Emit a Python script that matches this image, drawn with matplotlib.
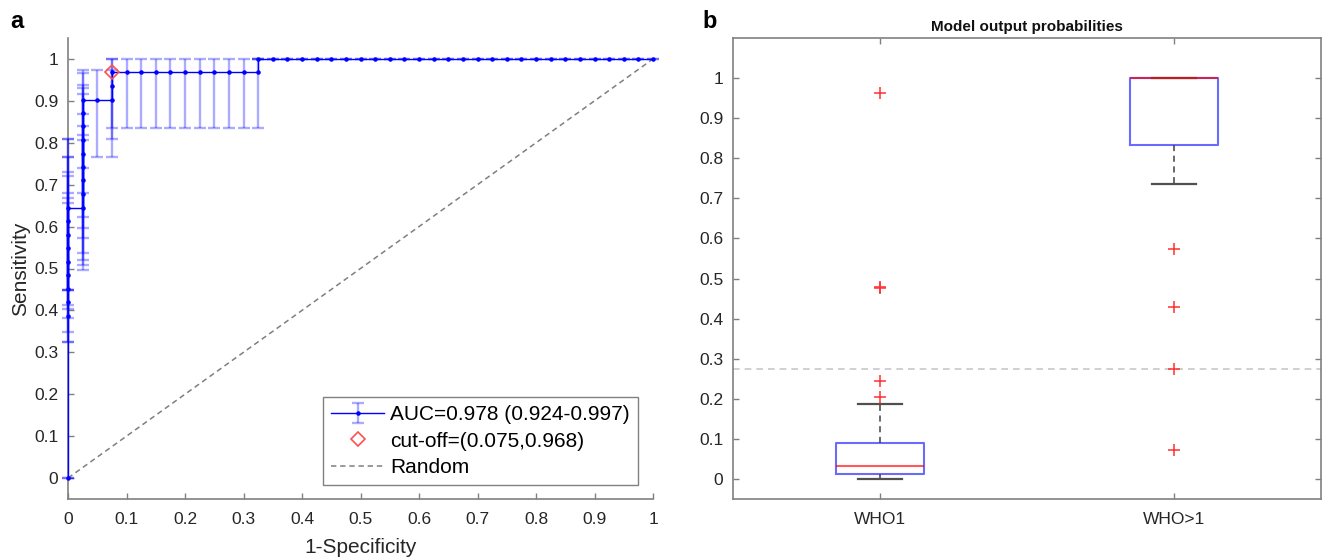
import numpy as np
import matplotlib
matplotlib.use('Agg')
import matplotlib.pyplot as plt

plt.rcParams['font.family'] = ['Liberation Sans', 'DejaVu Sans']

# ROC curve points (1-specificity, sensitivity) with bootstrap CI on sensitivity
fpr = [0, 0, 0, 0, 0, 0, 0, 0, 0, 0,
       0.025, 0.025, 0.025, 0.025, 0.025, 0.025, 0.025, 0.025, 0.025,
       0.05,
       0.075, 0.075, 0.075,
       0.1, 0.125, 0.15, 0.175, 0.2, 0.225, 0.25, 0.275, 0.3, 0.325,
       0.325, 0.35, 0.375, 0.4, 0.425, 0.45, 0.475, 0.5, 0.525, 0.55, 0.575,
       0.6, 0.625, 0.65, 0.675, 0.7, 0.725, 0.75, 0.775, 0.8, 0.825, 0.85,
       0.875, 0.9, 0.925, 0.95, 0.975, 1.0]
tpr = [0, 0.387, 0.419, 0.452, 0.484, 0.516, 0.548, 0.581, 0.613, 0.645,
       0.645, 0.677, 0.710, 0.742, 0.774, 0.806, 0.839, 0.871, 0.903,
       0.903,
       0.903, 0.935, 0.968,
       0.968, 0.968, 0.968, 0.968, 0.968, 0.968, 0.968, 0.968, 0.968, 0.968,
       1.0, 1.0, 1.0, 1.0, 1.0, 1.0, 1.0, 1.0, 1.0, 1.0, 1.0,
       1.0, 1.0, 1.0, 1.0, 1.0, 1.0, 1.0, 1.0, 1.0, 1.0, 1.0,
       1.0, 1.0, 1.0, 1.0, 1.0, 1.0]
tpr_lo = [0, 0.325, 0.325, 0.348, 0.383, 0.403, 0.413, 0.449, 0.449, 0.449,
          0.496, 0.508, 0.520, 0.536, 0.572, 0.596, 0.624, 0.680, 0.739,
          0.765,
          0.765, 0.808, 0.835,
          0.835, 0.835, 0.835, 0.835, 0.835, 0.835, 0.835, 0.835, 0.835, 0.835,
          1.0, 1.0, 1.0, 1.0, 1.0, 1.0, 1.0, 1.0, 1.0, 1.0, 1.0,
          1.0, 1.0, 1.0, 1.0, 1.0, 1.0, 1.0, 1.0, 1.0, 1.0, 1.0,
          1.0, 1.0, 1.0, 1.0, 1.0, 1.0]
tpr_hi = [0, 0.657, 0.668, 0.680, 0.720, 0.730, 0.765, 0.765, 0.808, 0.808,
          0.807, 0.819, 0.840, 0.869, 0.916, 0.930, 0.938, 0.966, 0.974,
          0.974,
          0.974, 1.0, 1.0,
          1.0, 1.0, 1.0, 1.0, 1.0, 1.0, 1.0, 1.0, 1.0, 1.0,
          1.0, 1.0, 1.0, 1.0, 1.0, 1.0, 1.0, 1.0, 1.0, 1.0, 1.0,
          1.0, 1.0, 1.0, 1.0, 1.0, 1.0, 1.0, 1.0, 1.0, 1.0, 1.0,
          1.0, 1.0, 1.0, 1.0, 1.0, 1.0]
cutoff_x = 0.075
cutoff_y = 0.968
random_x = [0, 1]
random_y = [0, 1]
auc_label = 'AUC=0.978 (0.924-0.997)'
cutoff_label = 'cut-off=(0.075,0.968)'

# boxplot summary per group
groups = ['WHO1', 'WHO>1']
q1 = [0.012, 0.832]
med = [0.033, 1.0]
q3 = [0.090, 1.0]
whislo = [0.0, 0.735]
whishi = [0.187, 1.0]
fliers = [[0.205, 0.244, 0.477, 0.480, 0.963],
          [0.072, 0.275, 0.428, 0.573]]
threshold = 0.275

W, H = 1323, 557
fig = plt.figure(figsize=(W / 100, H / 100), dpi=100)

axis_grey = '#808080'
text_col = '#262626'

# ---- panel a: ROC ----
ax = fig.add_axes([68 / W, 58 / H, 585 / W, 461 / H])
fpr = np.array(fpr)
tpr = np.array(tpr)
yerr = [tpr - np.array(tpr_lo), np.array(tpr_hi) - tpr]
eb = ax.errorbar(fpr, tpr, yerr=yerr, fmt='.-', color='#0000ff', lw=1.0,
                 ms=4.5, ecolor=(0, 0, 1, 0.33), elinewidth=1.7, capsize=4,
                 capthick=1.7, clip_on=False, zorder=3, label=auc_label)
for art in eb.lines[1] + eb.lines[2]:
    art.set_clip_on(False)
cut, = ax.plot([cutoff_x], [cutoff_y], 'D', mfc='none', mec='#ff5050', ms=7,
               mew=1.2, zorder=4, label=cutoff_label, clip_on=False)
rnd, = ax.plot(random_x, random_y, '--', color='#7f7f7f', lw=1.1,
               dashes=(3.5, 2.5), zorder=2, label='Random')

ax.set_xlim(0, 1)
ax.set_ylim(-0.05, 1.05)
ax.set_xticks(np.arange(0, 1.01, 0.1))
ax.set_yticks(np.arange(0, 1.01, 0.1))
ax.xaxis.set_major_formatter(matplotlib.ticker.FormatStrFormatter('%g'))
ax.yaxis.set_major_formatter(matplotlib.ticker.FormatStrFormatter('%g'))
ax.tick_params(direction='in', length=4, width=1, color=axis_grey,
               labelsize=12.5, labelcolor=text_col)
ax.tick_params(axis='x', pad=9)
ax.tick_params(axis='y', pad=7)
for s in ['top', 'right']:
    ax.spines[s].set_visible(False)
for s in ['left', 'bottom']:
    ax.spines[s].set_color(axis_grey)
    ax.spines[s].set_linewidth(1.2)
ax.set_xlabel('1-Specificity', fontsize=15, color=text_col)
ax.set_ylabel('Sensitivity', fontsize=15, color=text_col)
ax.xaxis.set_label_coords(0.5, -0.085)
ax.yaxis.set_label_coords(-0.065, 0.5)

leg = ax.legend([eb, cut, rnd], [auc_label, cutoff_label, 'Random'],
                loc='lower right', bbox_to_anchor=(0.974, 0.03),
                fontsize=15, fancybox=False, framealpha=1, edgecolor=axis_grey,
                handlelength=2.5, handletextpad=0.3, labelspacing=0.35,
                borderpad=0.4, borderaxespad=0)
leg.get_frame().set_linewidth(1.0)

fig.text(10 / W, 1 - 22 / H, 'a', fontsize=17, fontweight='bold', va='center')

# ---- panel b: boxplot ----
bx = fig.add_axes([733 / W, 58 / H, 588 / W, 461 / H])
bx.axhline(threshold, color='#c8c8c8', ls='--', lw=1.2, dashes=(4, 3), zorder=1)
stats = []
for i in range(len(groups)):
    stats.append(dict(label=groups[i], q1=q1[i], med=med[i], q3=q3[i],
                      whislo=whislo[i], whishi=whishi[i], fliers=fliers[i]))
bx.bxp(stats, positions=[1, 2], widths=0.3, capwidths=0.15,
       boxprops=dict(color='#6a6aff', lw=1.5),
       medianprops=dict(color=(1, 0, 0, 0.65), lw=1.5),
       whiskerprops=dict(color='#404040', lw=1.1, ls=(0, (4, 3))),
       capprops=dict(color='#505050', lw=1.6),
       flierprops=dict(marker='+', markeredgecolor='#ff3030', ms=9, mew=1.1))
bx.set_xlim(0.5, 2.5)
bx.set_ylim(-0.05, 1.1)
bx.set_yticks(np.arange(0, 1.01, 0.1))
bx.yaxis.set_major_formatter(matplotlib.ticker.FormatStrFormatter('%g'))
bx.tick_params(direction='in', length=4, width=1, color=axis_grey,
               labelsize=12.5, labelcolor=text_col, top=True, right=True)
bx.tick_params(axis='x', pad=9)
bx.tick_params(axis='y', pad=7)
for s in bx.spines.values():
    s.set_color(axis_grey)
    s.set_linewidth(1.2)
bx.set_title('Model output probabilities', fontsize=11, fontweight='bold',
             color='#111111', pad=5)

fig.text(702 / W, 1 - 22 / H, 'b', fontsize=17, fontweight='bold', va='center')

fig.savefig('out.png', dpi=100)
